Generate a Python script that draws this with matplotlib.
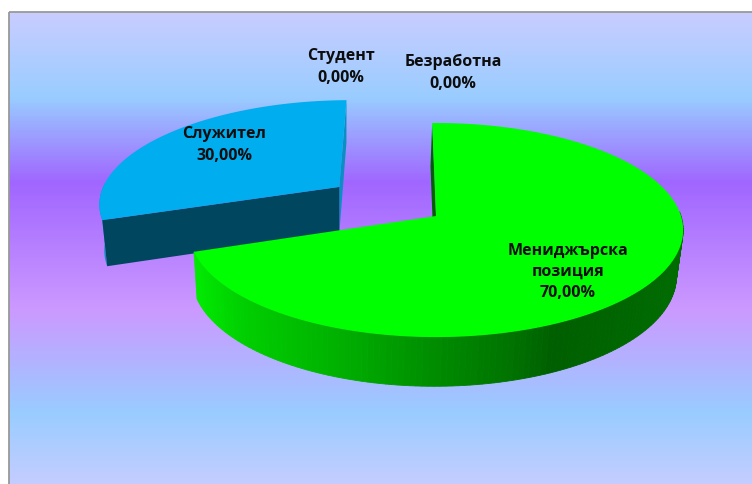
"""3D exploded pie: job position shares, projected by hand with a small perspective."""
import numpy as np
import matplotlib.pyplot as plt
from matplotlib.colors import LinearSegmentedColormap, to_rgb
from matplotlib.patches import Rectangle

plt.rcParams['font.family'] = ['Open Sans', 'DejaVu Sans']

categories = ["Мениджърска\nпозиция", "Служител", "Студент", "Безработна"]
values = [70.0, 30.0, 0.0, 0.0]
value_labels = ["70,00%", "30,00%", "0,00%", "0,00%"]
label_pos = [(568, 272), (224, 145), (341, 67), (453, 73)]

# background gradient stops (fraction of plot height, colour)
bg_stops = [(0.0, "#c9ccff"), (0.18, "#99ccff"), (0.36, "#a066ff"),
            (0.63, "#cc99ff"), (0.85, "#99ccff"), (1.0, "#c4ccff")]
# outer wall shading of the green slice, by screen x
wall_x = [190, 240, 340, 430, 510, 555, 680]
wall_col = ["#00ee00", "#00d000", "#00b000", "#008e00", "#007400", "#005f00", "#006c00"]

CX, CY = 436, 216
RX, RY = 245, 105.2
PERSP = 0.131
DEPTH = 46
VX = 345
START = -1.0
EXPLODE = 0.5


def project(u, v, z=0.0):
    w = 1 + PERSP * v
    x = CX + RX * u / w
    y = CY - RY * v / w
    s = 1 - 0.02 * z
    return VX + (x - VX) * s, y + z * DEPTH / (1 + 0.5 * PERSP * v)


def rim(a0, a1, off=(0, 0), z=0.0, n=200):
    a = np.radians(np.linspace(a0, a1, n))
    return project(off[0] + np.sin(a), off[1] + np.cos(a), z)


def main():
    fig = plt.figure(figsize=(7.52, 4.84), dpi=100)
    ax = fig.add_axes([0, 0, 1, 1])
    ax.set_xlim(0, 752)
    ax.set_ylim(484, 0)
    ax.axis("off")

    # plot background
    left, top = 9, 12
    cmap = LinearSegmentedColormap.from_list("bg", bg_stops)
    grad = np.linspace(0, 1, 472)[:, None]
    ax.imshow(grad, cmap=cmap, extent=(left, 752, 484, top), aspect="auto", zorder=0)
    ax.add_patch(Rectangle((left, top), 760, 480, fill=False, ec="#999999", lw=1.3, zorder=1))
    ax.set_xlim(0, 752)
    ax.set_ylim(484, 0)

    ends = np.cumsum(values) / sum(values) * 360 + START
    a_green = (START, ends[0])
    a_blue = (ends[0], ends[1])

    # --- exploded slice ---
    mid = np.radians(sum(a_blue) / 2)
    off = (EXPLODE * np.sin(mid), EXPLODE * np.cos(mid))
    tx0, ty0 = project(off[0], off[1], 0)
    tx1, ty1 = project(off[0], off[1], 1)
    bx, by = rim(*a_blue, off=off)
    bx1, by1 = rim(*a_blue, off=off, z=1)
    # outer wall sliver on the left, right cut wall, then front cut wall
    ax.fill(np.r_[bx[:40], bx1[:40][::-1]], np.r_[by[:40], by1[:40][::-1]],
            color="#0a8fc4", lw=0, zorder=2)
    ax.fill([bx[-1], bx1[-1], tx1, tx0], [by[-1], by1[-1], ty1, ty0],
            color="#0a8fc4", lw=0, zorder=2)
    ax.fill([bx[0], tx0, tx1, bx1[0]], [by[0], ty0, ty1, by1[0]],
            color="#00465f", lw=0, zorder=3)
    ax.fill(np.r_[tx0, bx], np.r_[ty0, by], color="#00adef", lw=0, zorder=4)

    # --- main slice ---
    tx0, ty0 = project(0, 0, 0)
    tx1, ty1 = project(0, 0, 1)
    gx, gy = rim(*a_green)
    gx1, gy1 = rim(*a_green, z=1)
    ax.fill([gx[0], tx0, tx1, gx1[0]], [gy[0], ty0, ty1, gy1[0]],
            color="#005f00", lw=0, zorder=5)
    rgb = np.array([to_rgb(c) for c in wall_col])
    for i in range(70, len(gx) - 1):
        xm = (gx[i] + gx[i + 1]) / 2
        col = [np.interp(xm, wall_x, rgb[:, k]) for k in range(3)]
        ax.fill([gx[i], gx[i + 1], gx1[i + 1], gx1[i]],
                [gy[i], gy[i + 1], gy1[i + 1], gy1[i]],
                fc=col, ec=col, lw=0.6, zorder=6)
    ax.fill(np.r_[tx0, gx], np.r_[ty0, gy], color="#00ff00", lw=0, zorder=7)

    # --- labels ---
    for name, val, (x, y) in zip(categories, value_labels, label_pos):
        ax.text(x, y, f"{name}\n{val}", ha="center", va="center", fontsize=11.5,
                fontweight="bold", color="#0d0d0d", linespacing=1.45, zorder=10)

    fig.savefig("out.png", dpi=100)
    plt.close(fig)


if __name__ == "__main__":
    main()
